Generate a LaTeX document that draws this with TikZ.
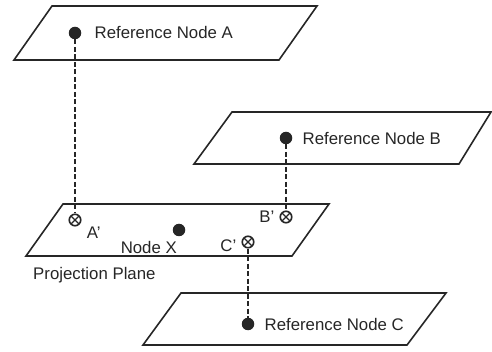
\documentclass[tikz,border=0pt]{standalone}
\usepackage{fontspec}
\setmainfont{Liberation Sans}
\usetikzlibrary{positioning}
\definecolor{ink}{HTML}{262626}

\begin{document}
\begin{tikzpicture}
	[x=1pt, y=-1pt, font=\fontsize{16.8}{20}\selectfont,
	 plane/.style={draw=ink, line width=1.6pt},
	 refdot/.style={circle, fill=ink, inner sep=0pt, minimum size=12.5pt},
	 projdot/.style={circle, draw=ink, line width=1.6pt, inner sep=0pt, minimum size=11.5pt,
	   path picture={\draw[ink, line width=1.2pt]
	     (path picture bounding box.north west) -- (path picture bounding box.south east)
	     (path picture bounding box.north east) -- (path picture bounding box.south west);}},
	 lbl/.style={text=ink, inner sep=2pt},
	 link/.style={draw=ink, line width=1.3pt, dash pattern=on 5pt off 2.5pt}]
   \useasboundingbox (0,0) rectangle (492,352);
   % planes
   \draw[plane] (52,6) -- (317,6) -- (279,60) -- (14,60) -- cycle;
   \draw[plane] (232,112) -- (491,112) -- (459,164) -- (194,164) -- cycle;
   \draw[plane] (63,204) -- (329,204) -- (292,256) -- (26,256) -- cycle;
   \draw[plane] (181,293) -- (446,293) -- (407,345) -- (143,345) -- cycle;
   % reference nodes
   \node[refdot] (ra) at (75,33) {};
   \node[refdot] (rb) at (286,138) {};
   \node[refdot] (rc) at (248,324) {};
   \node[refdot] (nx) at (179,230) {};
   \node[lbl] (la) [right=11pt of ra] {Reference Node A};
   \node[lbl] (lb) [right=8pt of rb] {Reference Node B};
   \node[lbl] (lc) [right=8pt of rc] {Reference Node C};
   \node[lbl] (lx) [below=3pt of nx, anchor=north east] {Node X};
   % projections
   \node[projdot] (pa) at (75,220) {};
   \node[projdot] (pb) at (286,217) {};
   \node[projdot] (pc) at (248,242) {};
   \node[lbl] (lpa) [below right=0pt and 5pt of pa] {A'};
   \node[lbl] (lpb) [left=3pt of pb] {B'};
   \node[lbl] (lpc) [left=3pt of pc, yshift=-4pt] {C'};
   \node[lbl, anchor=west] (lplane) at (31,275) {Projection Plane};
   % dashed links
   \draw[link] (ra) -- (pa);
   \draw[link] (rb) -- (pb);
   \draw[link] (pc) -- (rc);
\end{tikzpicture}
\end{document}
